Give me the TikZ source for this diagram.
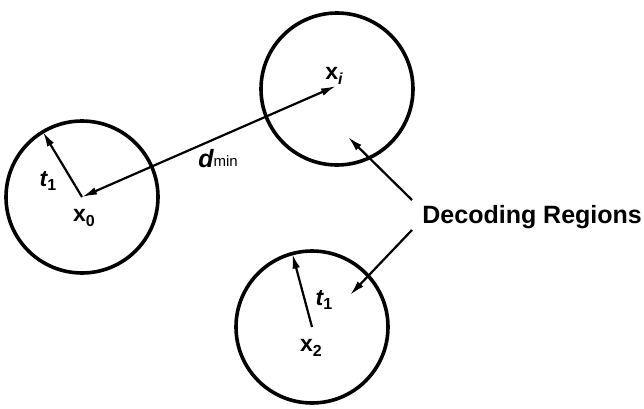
\documentclass[tikz,border=0pt]{standalone}
\usepackage{fontspec}
\setmainfont{Liberation Sans}
\usetikzlibrary{arrows.meta}
\begin{document}
\begin{tikzpicture}[x=0.5pt,y=-0.5pt,
  region/.style={circle,draw,line width=1.8pt,minimum size=76pt,inner sep=0pt,outer sep=0pt},
  arr/.style={line width=1.1pt,-{Latex[length=7.5pt,width=3.8pt]}},
  darr/.style={line width=1.1pt,{Latex[length=7.5pt,width=3.8pt]}-{Latex[length=7.5pt,width=3.8pt]}},
  lbl/.style={inner sep=0pt,font=\fontsize{11.5}{13}\selectfont\bfseries},
]
\useasboundingbox (0,0) rectangle (644,408);
% circles
\node[region] (c0) at (82,197) {};
\node[region] (ci) at (337,89) {};
\node[region] (c2) at (312,327) {};
\coordinate (pi) at (336,86);
% labels
\node[lbl] (x0) at (84,218) {x\raisebox{-0.35ex}{\fontsize{8}{9}\selectfont 0}};
\node[lbl] (xi) at (334,76) {x\raisebox{-0.35ex}{\fontsize{8}{9}\selectfont\itshape i}};
\node[lbl] (x2) at (311,348) {x\raisebox{-0.35ex}{\fontsize{8}{9}\selectfont 2}};
\node[lbl] (t1a) at (48,181) {\itshape t\raisebox{-0.35ex}{\fontsize{8}{9}\selectfont\upshape 1}};
\node[lbl] (t1b) at (324,300) {\itshape t\raisebox{-0.35ex}{\fontsize{8}{9}\selectfont\upshape 1}};
\node[lbl] (dmin) at (218,159) {\fontsize{12.5}{14}\selectfont\itshape d\raisebox{0.1ex}{\fontsize{7.5}{9}\selectfont\mdseries\upshape min}};
\node[inner sep=0pt,anchor=west,font=\fontsize{12.5}{15}\selectfont\bfseries] (dr) at (422,217) {Decoding Regions};
% arrows
\draw[arr] (c0.center) -- (c0.121);
\draw[arr] (c2.center) -- (c2.105);
\draw[darr] (c0.center) -- (pi);
\coordinate (tipa) at (348,137);
\coordinate (tipb) at (350,295);
\draw[arr] ([shift={(-10,-17)}]dr.west) -- (tipa);
\draw[arr] ([shift={(-10,13)}]dr.west) -- (tipb);
\end{tikzpicture}
\end{document}
